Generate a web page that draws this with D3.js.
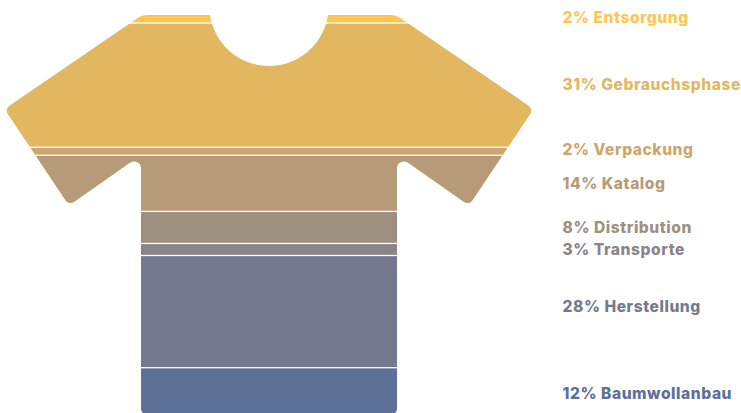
<!DOCTYPE html>
<html><head><meta charset="utf-8">
<style>html,body{margin:0;padding:0;background:#fff;overflow:hidden}svg{display:block}</style>
<script src="https://cdn.jsdelivr.net/npm/d3@7"></script></head>
<body><svg id="chart" width="741" height="413"></svg>
<script>
// Life-cycle shares of a T-shirt, listed from the collar down to the hem
const stages = ["Entsorgung","Gebrauchsphase","Verpackung","Katalog","Distribution","Transporte","Herstellung","Baumwollanbau"];
const shares = [2,31,2,14,8,3,28,12];
const colours = ["#ffc64f","#e3b760","#cda66f","#b79b78","#9e9080","#8a848b","#74798f","#5d7098"];

const svg = d3.select("#chart");
const y = d3.scaleLinear().domain([0,100]).range([15,415.8]);
const mirror = x => 538 - x;

// Garment outline, traced down the left side and back up the right
function outline() {
  const r = {collar:20, tip:6, arm:7, hem:5};
  const bottom = 414, neckY = 6.4, neckR = 59.6, neckX = 269;
  const rim = Math.sqrt(neckR*neckR - (15-neckY)*(15-neckY));
  const p = d3.path();
  p.moveTo(neckX-rim,15);
  p.arcTo(142,15,4.5,109,r.collar);
  p.arcTo(4.5,109,69,205.5,r.tip);
  p.arcTo(69,205.5,141,155,r.tip);
  p.arcTo(141,155,141,bottom,r.arm);
  p.arcTo(141,bottom,269,bottom,r.hem);
  p.arcTo(mirror(141),bottom,mirror(141),155,r.hem);
  p.arcTo(mirror(141),155,mirror(69),205.5,r.arm);
  p.arcTo(mirror(69),205.5,mirror(4.5),109,r.tip);
  p.arcTo(mirror(4.5),109,mirror(142),15,r.tip);
  p.arcTo(mirror(142),15,neckX+rim,15,r.collar);
  p.lineTo(neckX+rim,15);
  const start = Math.atan2(15-neckY,rim), end = Math.atan2(15-neckY,-rim);
  p.arc(neckX,neckY,neckR,start,end,false);
  p.closePath();
  return p.toString();
}

svg.append("clipPath").attr("id","shirt").append("path").attr("d",outline());

const cumulative = d3.cumsum(shares);
const gap = 1.3;
svg.append("g").attr("clip-path","url(#shirt)")
  .selectAll("rect").data(shares).join("rect")
  .attr("x",0).attr("width",538)
  .attr("y",(d,i)=> y(i ? cumulative[i-1] : 0) + (i ? gap/2 : 0))
  .attr("height",(d,i)=> y(cumulative[i]) - y(i ? cumulative[i-1] : 0) - (i ? gap : gap/2))
  .attr("fill",(d,i)=>colours[i]);

// Label baselines stand apart from the band centres, so they get their own offsets
const labelShift = [3.8,5.3,3.8,6,5.2,5.6,0.3,7.6];
svg.append("g").selectAll("text").data(stages).join("text")
  .attr("x",562.5)
  .attr("y",(d,i)=> (y(i ? cumulative[i-1] : 0)+y(cumulative[i]))/2 + labelShift[i])
  .attr("fill",(d,i)=>colours[i])
  .attr("font-family","Inter, Lato, sans-serif")
  .attr("font-weight",800)
  .attr("font-size",15.6)
  .attr("letter-spacing",0.55)
  .text((d,i)=>`${shares[i]}% ${d}`);
</script></body></html>
